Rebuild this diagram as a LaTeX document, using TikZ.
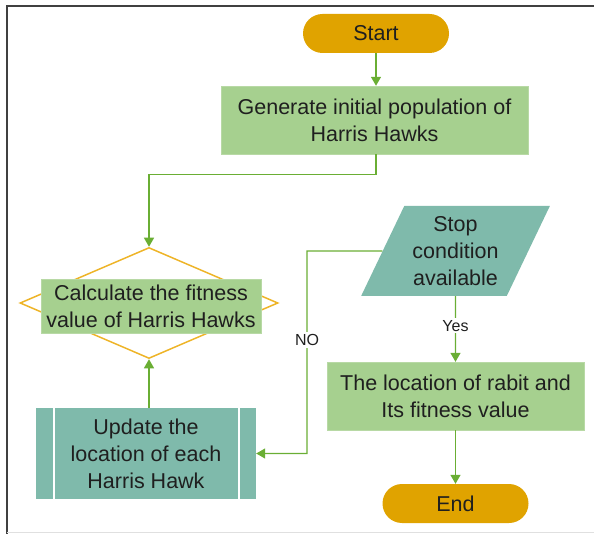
\documentclass[tikz,border=0pt]{standalone}
\usepackage{fontspec}
\setmainfont{Liberation Sans}
\usetikzlibrary{shapes.geometric,arrows.meta}
\definecolor{hhgold}{RGB}{224,163,0}
\definecolor{hhgreen}{RGB}{166,208,143}
\definecolor{hhteal}{RGB}{127,186,171}
\definecolor{hhline}{RGB}{106,174,52}
\definecolor{hhorange}{RGB}{238,180,40}
\tikzset{
  base/.style={text=black!88, align=center, inner sep=0pt, font=\fontsize{21.5}{27}\selectfont},
  terminal/.style={base, rounded corners=19.5pt, fill=hhgold, minimum width=146pt, minimum height=39pt},
  process/.style={base, fill=hhgreen, draw=hhgreen!80!white},
  flow/.style={hhline, line width=1.3pt, -{Triangle[width=10pt,length=9pt]}},
}
\begin{document}
\begin{tikzpicture}[x=1pt,y=-1pt]
			\useasboundingbox (0,0) rectangle (594,534);
			% frame
			\draw[black!75, line width=2pt] (594,6) -- (7,6) -- (7,534);
			\draw[black!12, line width=0.8pt] (7,532) -- (594,532);
			% nodes
			\node[terminal] (start) at (376,33.5) {Start};
			\node[process, minimum width=307pt, minimum height=68pt] (gen) at (374.5,120) {Generate initial population of\\Harris Hawks};
			\node[diamond, draw=hhorange, line width=1.5pt, minimum width=258pt, minimum height=111pt, inner sep=0pt] (fit) at (149,303) {};
			\node[process, minimum width=220pt, minimum height=54pt] (calc) at (151,306) {Calculate the fitness\\value of Harris Hawks};
			\node[base, fill=hhteal, minimum width=220pt, minimum height=91pt] (upd) at (146,453.5) {Update the\\location of each\\Harris Hawk};
			\draw[white, line width=1.5pt] ([xshift=18pt]upd.north west) -- ([xshift=18pt]upd.south west);
			\draw[white, line width=1.5pt] ([xshift=-17pt]upd.north east) -- ([xshift=-17pt]upd.south east);
			\node[base, trapezium, trapezium left angle=62.4, trapezium right angle=117.6, trapezium stretches=true, fill=hhteal, minimum width=189pt, minimum height=90pt] (stop) at (455.5,251) {Stop\\condition\\available};
			\node[process, minimum width=257pt, minimum height=68pt] (loc) at (455.5,396) {The location of rabit and\\Its fitness value};
			\node[terminal] (end) at (455.5,503.5) {End};
			\coordinate (nobend) at (307,251);
			% connectors
			\draw[flow] (start) -- (start |- gen.north);
			\draw[flow] (gen.south -| start) -- ++(0,20) -| (fit.north);
			\draw[flow] (fit.south |- upd.north) -- (fit.south);
			\draw[flow] (stop.west) -- (nobend) |- node[pos=0.22, base, fill=white, font=\fontsize{16}{18}\selectfont, inner sep=2pt] {NO} (upd.east);
			\draw[flow] (stop.south) -- node[pos=0.45, base, fill=white, font=\fontsize{16}{18}\selectfont, inner sep=2pt] {Yes} (loc.north);
			\draw[flow] (loc) -- (end);
		\end{tikzpicture}
\end{document}
